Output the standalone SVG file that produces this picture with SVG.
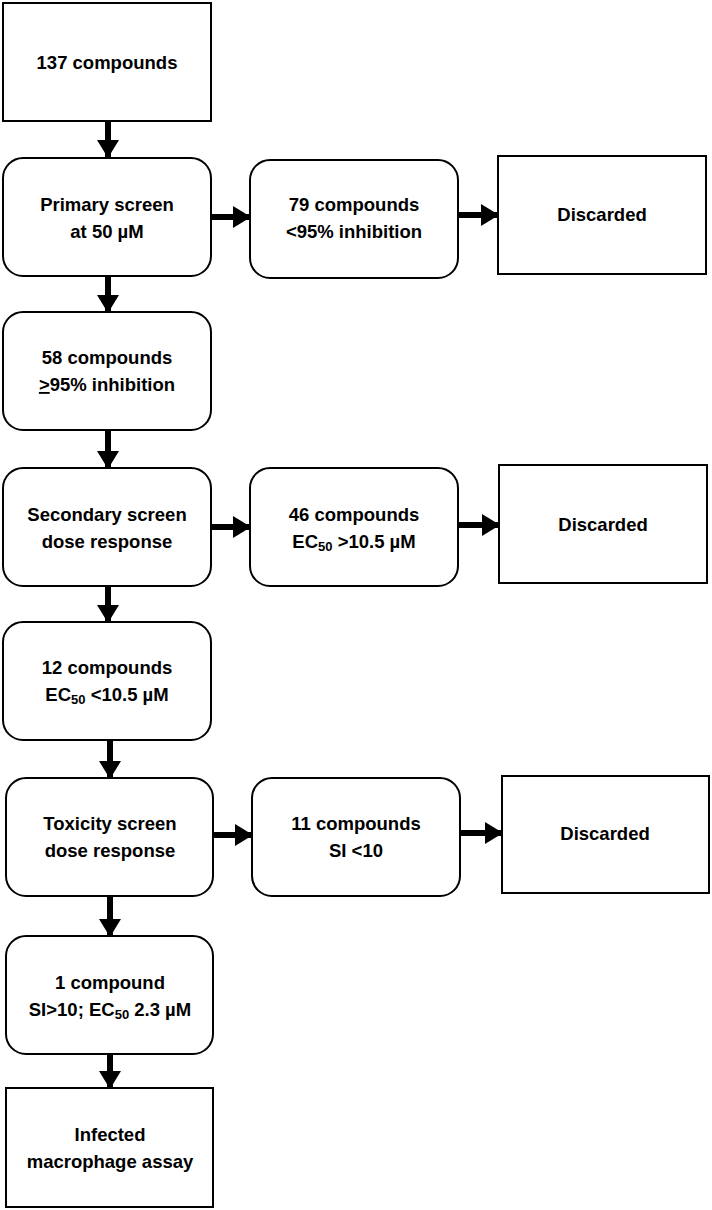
<svg xmlns="http://www.w3.org/2000/svg" width="712" height="1210" viewBox="0 0 712 1210">
<style>
.box{fill:#fff;stroke:#000;stroke-width:2}
.t{font-family:"Liberation Sans",Arial,sans-serif;font-weight:bold;font-size:18.5px;fill:#000;text-anchor:middle}
.sub{font-size:13px}
.c{stroke:#000;stroke-width:6;fill:none}
</style>
<defs>
<marker id="ah" markerUnits="userSpaceOnUse" markerWidth="18" markerHeight="22" refX="17" refY="11" orient="auto">
<path d="M0,0 L18,11 L0,22 Z" fill="#000"/>
</marker>
</defs>
<rect width="712" height="1210" fill="#fff"/>
<g id="connectors">
<line class="c" x1="108" y1="122" x2="108" y2="157" marker-end="url(#ah)"/>
<line class="c" x1="108" y1="277" x2="108" y2="312" marker-end="url(#ah)"/>
<line class="c" x1="108" y1="431" x2="108" y2="468" marker-end="url(#ah)"/>
<line class="c" x1="108" y1="587" x2="108" y2="622" marker-end="url(#ah)"/>
<line class="c" x1="110" y1="741" x2="110" y2="778" marker-end="url(#ah)"/>
<line class="c" x1="110" y1="897" x2="110" y2="936" marker-end="url(#ah)"/>
<line class="c" x1="110" y1="1055" x2="110" y2="1088" marker-end="url(#ah)"/>
<line class="c" x1="211" y1="217" x2="250" y2="217" marker-end="url(#ah)"/>
<line class="c" x1="458" y1="215" x2="498" y2="215" marker-end="url(#ah)"/>
<line class="c" x1="211" y1="527" x2="250" y2="527" marker-end="url(#ah)"/>
<line class="c" x1="458" y1="525" x2="499" y2="525" marker-end="url(#ah)"/>
<line class="c" x1="213" y1="835" x2="252" y2="835" marker-end="url(#ah)"/>
<line class="c" x1="460" y1="833" x2="502" y2="833" marker-end="url(#ah)"/>
</g>
<g id="n137">
<rect class="box" x="3" y="3" width="208" height="118"/>
<text class="t" x="107" y="69">137 compounds</text>
</g>
<g id="primary">
<rect class="box" x="3" y="158" width="208" height="118" rx="20"/>
<text class="t" x="107" y="211">Primary screen</text>
<text class="t" x="107" y="238">at 50 µM</text>
</g>
<g id="n79">
<rect class="box" x="250" y="160" width="208" height="118" rx="20"/>
<text class="t" x="354" y="211">79 compounds</text>
<text class="t" x="354" y="238">&lt;95% inhibition</text>
</g>
<g id="disc1">
<rect class="box" x="498" y="156" width="208" height="118"/>
<text class="t" x="602" y="221">Discarded</text>
</g>
<g id="n58">
<rect class="box" x="3" y="312" width="208" height="118" rx="20"/>
<text class="t" x="107" y="364">58 compounds</text>
<text class="t" x="107" y="391"><tspan text-decoration="underline">&gt;</tspan>95% inhibition</text>
</g>
<g id="secondary">
<rect class="box" x="3" y="468" width="208" height="118" rx="20"/>
<text class="t" x="107" y="521">Secondary screen</text>
<text class="t" x="107" y="548">dose response</text>
</g>
<g id="n46">
<rect class="box" x="250" y="468" width="208" height="118" rx="20"/>
<text class="t" x="354" y="521">46 compounds</text>
<text class="t" x="354" y="548">EC<tspan class="sub" dy="3">50</tspan><tspan dy="-3"> &gt;10.5 µM</tspan></text>
</g>
<g id="disc2">
<rect class="box" x="499" y="465" width="208" height="118"/>
<text class="t" x="603" y="531">Discarded</text>
</g>
<g id="n12">
<rect class="box" x="3" y="622" width="208" height="118" rx="20"/>
<text class="t" x="107" y="674">12 compounds</text>
<text class="t" x="107" y="701">EC<tspan class="sub" dy="3">50</tspan><tspan dy="-3"> &lt;10.5 µM</tspan></text>
</g>
<g id="toxicity">
<rect class="box" x="6" y="778" width="207" height="118" rx="20"/>
<text class="t" x="110" y="830">Toxicity screen</text>
<text class="t" x="110" y="857">dose response</text>
</g>
<g id="n11">
<rect class="box" x="252" y="778" width="208" height="118" rx="20"/>
<text class="t" x="356" y="830">11 compounds</text>
<text class="t" x="356" y="857">SI &lt;10</text>
</g>
<g id="disc3">
<rect class="box" x="502" y="776" width="207" height="117"/>
<text class="t" x="605" y="840">Discarded</text>
</g>
<g id="n1">
<rect class="box" x="6" y="936" width="207" height="118" rx="20"/>
<text class="t" x="110" y="989">1 compound</text>
<text class="t" x="110" y="1016">SI&gt;10; EC<tspan class="sub" dy="3">50</tspan><tspan dy="-3"> 2.3 µM</tspan></text>
</g>
<g id="macrophage">
<rect class="box" x="6" y="1088" width="207" height="119"/>
<text class="t" x="110" y="1141">Infected</text>
<text class="t" x="110" y="1168">macrophage assay</text>
</g>
</svg>
